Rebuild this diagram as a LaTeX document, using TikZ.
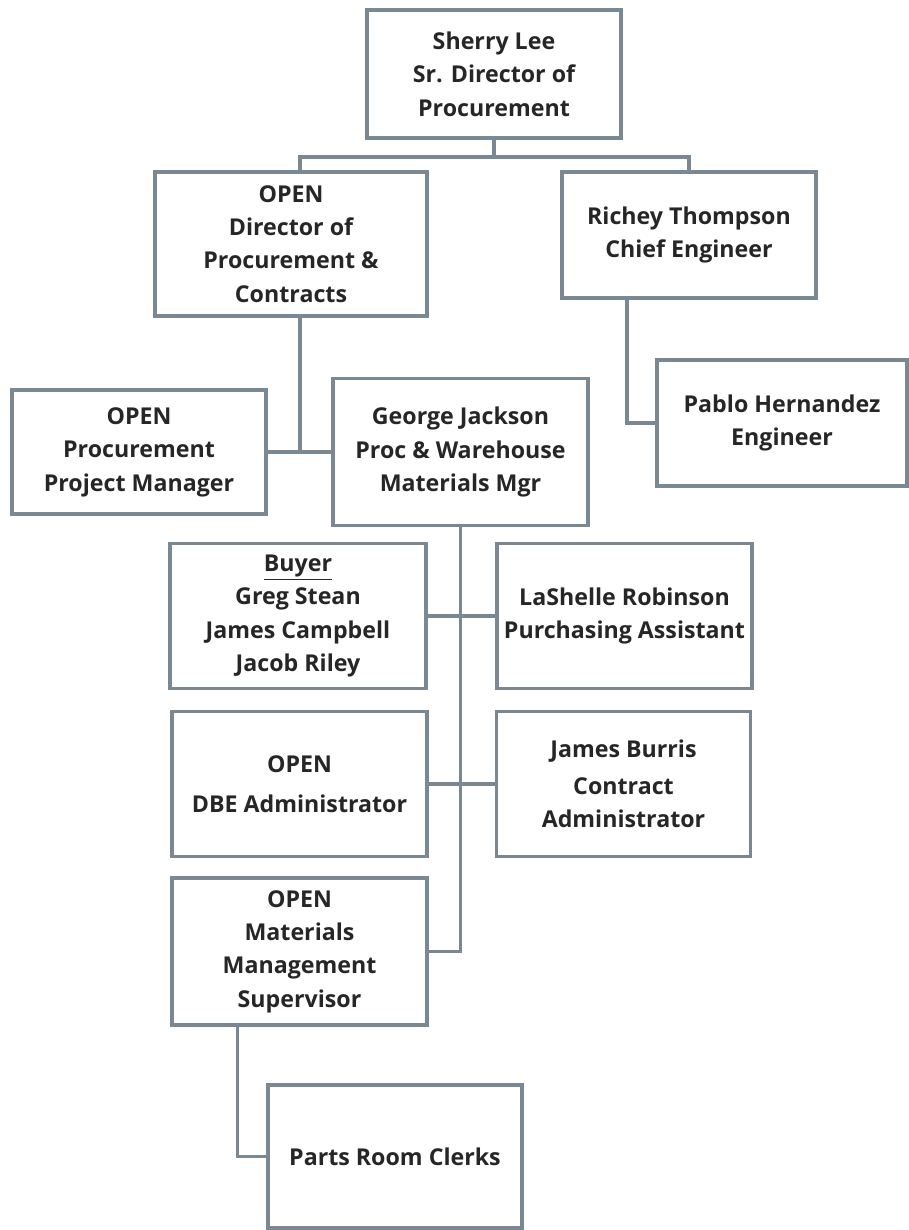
\documentclass[tikz,border=0pt]{standalone}
\usepackage{fontspec}
\setmainfont{Open Sans}
\usetikzlibrary{positioning}

\definecolor{boxline}{RGB}{122,136,148}
\definecolor{boxtext}{RGB}{38,38,38}

\begin{document}
\begin{tikzpicture}[
  box/.style={draw=boxline, line width=2.2pt, fill=white, align=center,
    text=boxtext, font=\fontsize{13.2}{19}\selectfont\bfseries,
    inner sep=0pt, minimum width=5.08cm, minimum height=2.9cm},
  link/.style={draw=boxline, line width=2.2pt}
]
\useasboundingbox (0,0) rectangle (18.16,-24.6);

% top level
\node[box, minimum height=2.56cm] (sherry) at (9.88,-1.48) {Sherry Lee\\Sr. Director of\\Procurement};

% second level
\node[box, minimum width=5.44cm, minimum height=2.88cm] (dir) at (5.82,-4.88) {OPEN\\Director of\\Procurement \&\\Contracts};
\node[box, minimum height=2.52cm] (richey) at (13.78,-4.70) {Richey Thompson\\Chief Engineer};
\node[box, minimum width=5.0cm, minimum height=2.52cm] (pablo) at (15.64,-8.46) {Pablo Hernandez\\Engineer};

% third level
\node[box, minimum height=2.48cm] (pm) at (2.78,-9.04) {OPEN\\Procurement\\Project Manager};
\node[box, minimum width=5.1cm, minimum height=2.94cm] (george) at (9.21,-9.04) {George Jackson\\Proc \& Warehouse\\Materials Mgr};

% staff under the materials manager
\node[box, minimum width=5.12cm] (buyer) at (5.96,-12.32) {\underline{Buyer}\\Greg Stean\\James Campbell\\Jacob Riley};
\node[box, minimum width=5.1cm] (lashelle) at (12.49,-12.32) {LaShelle Robinson\\Purchasing Assistant};
\node[box, minimum width=5.1cm] (dbe) at (5.99,-15.68) {OPEN\\[4pt]DBE Administrator};
\node[box] (burris) at (12.47,-15.68) {James Burris\\[2pt]Contract\\Administrator};
\node[box, minimum width=5.1cm, minimum height=2.94cm] (matsup) at (5.99,-19.03) {OPEN\\Materials\\Management\\Supervisor};
\node[box, minimum height=2.86cm] (parts) at (7.9,-23.13) {Parts Room Clerks};

% connectors
\draw[link] (sherry.south) -- ++(0,-0.34) -| ([xshift=0.18cm]dir.north);
\draw[link] (sherry.south) -- ++(0,-0.34) -| (richey.north);
\draw[link] ([xshift=0.18cm]dir.south) |- (pm.east);
\draw[link] (pm.east) -- (george.west);
\draw[link] ([xshift=-1.24cm]richey.south) |- (pablo.west);
\draw[link] (george.south) |- (matsup.east);
\draw[link] (buyer.east) -- (lashelle.west);
\draw[link] (dbe.east) -- (burris.west);
\draw[link] ([xshift=-1.24cm]matsup.south) |- (parts.west);

\end{tikzpicture}
\end{document}
